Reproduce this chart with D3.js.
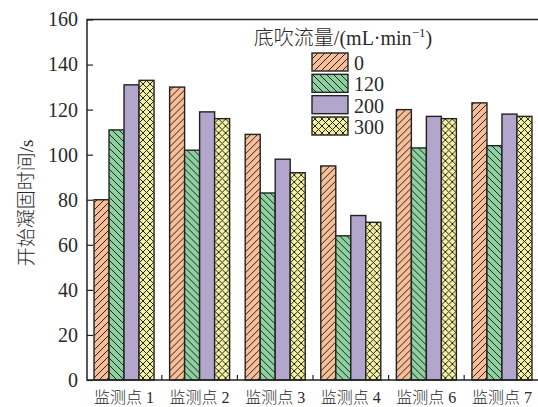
<!DOCTYPE html>
<html>
<head>
<meta charset="utf-8">
<script src="https://cdn.jsdelivr.net/npm/d3@7"></script>
<style>
  html, body { margin: 0; padding: 0; background: #fff; }
  svg { display: block; }
  text { font-family: "Liberation Serif", "Noto Sans CJK SC", serif; fill: #2a2a2a; }
  .cjk { font-weight: 300; }
</style>
</head>
<body>
<svg id="chart" width="538" height="407"></svg>
<script>
// Monitoring points along the x axis
const categories = ["监测点 1", "监测点 2", "监测点 3", "监测点 4", "监测点 6", "监测点 7"];
// Bottom-blowing flow rates (mL·min⁻¹) used as series
const seriesNames = ["0", "120", "200", "300"];
// Initial solidification time (s) per series, one value per monitoring point
const flow0   = [80, 130, 109, 95, 120, 123];
const flow120 = [111, 102, 83, 64, 103, 104];
const flow200 = [131, 119, 98, 73, 117, 118];
const flow300 = [133, 116, 92, 70, 116, 117];
const yTicks = [0, 20, 40, 60, 80, 100, 120, 140, 160];

const seriesValues = [flow0, flow120, flow200, flow300];
const fills = ["#F8BE98", "#8ED1A1", "#B3A6CC", "#F4F29E"];
const patternIds = ["hatch-fwd", "hatch-back", null, "hatch-cross"];

const svg = d3.select("#chart");
const plotLeft = 87, plotTop = 19.5, plotBottom = 380, plotRight = 539;

const x = d3.scaleBand().domain(categories).range([plotLeft, plotRight])
  .paddingInner(0.206).paddingOuter(0.093);
const xs = d3.scaleBand().domain(seriesNames).range([0, x.bandwidth()]);
const y = d3.scaleLinear().domain([0, 160]).range([plotBottom, plotTop]);

// Hatch patterns
const defs = svg.append("defs");
function addPattern(id, bg, draw) {
  const p = defs.append("pattern").attr("id", id)
    .attr("patternUnits", "userSpaceOnUse").attr("width", 7).attr("height", 7);
  p.append("rect").attr("width", 7).attr("height", 7).attr("fill", bg);
  draw(p);
}
function line(p, x1, y1, x2, y2) {
  p.append("line").attr("x1", x1).attr("y1", y1).attr("x2", x2).attr("y2", y2)
    .attr("stroke", "#222").attr("stroke-width", 1);
}
addPattern("hatch-fwd", fills[0], p => {
  line(p, -1, 8, 8, -1); line(p, -1, 1, 1, -1); line(p, 6, 8, 8, 6);
});
addPattern("hatch-back", fills[1], p => {
  line(p, -1, -1, 8, 8); line(p, 6, -1, 8, 1); line(p, -1, 6, 1, 8);
});
addPattern("hatch-cross", fills[3], p => {
  line(p, -1, 8, 8, -1); line(p, -1, 1, 1, -1); line(p, 6, 8, 8, 6);
  line(p, -1, -1, 8, 8); line(p, 6, -1, 8, 1); line(p, -1, 6, 1, 8);
});
const fillOf = i => patternIds[i] ? `url(#${patternIds[i]})` : fills[i];

// Bars
const groups = svg.append("g").selectAll("g").data(categories).join("g")
  .attr("transform", d => `translate(${x(d)},0)`);
groups.selectAll("rect")
  .data((d, ci) => seriesNames.map((s, si) => ({ s, si, v: seriesValues[si][ci] })))
  .join("rect")
  .attr("x", d => xs(d.s))
  .attr("y", d => y(d.v))
  .attr("width", xs.bandwidth())
  .attr("height", d => plotBottom - y(d.v))
  .attr("fill", d => fillOf(d.si))
  .attr("stroke", "#222").attr("stroke-width", 1.4);

// Frame
svg.append("path")
  .attr("d", `M${plotRight + 10},${plotTop}H${plotLeft}V${plotBottom}H${plotRight + 10}`)
  .attr("fill", "none").attr("stroke", "#222").attr("stroke-width", 1.5);

// Y axis (ticks pointing inward)
const yAxis = svg.append("g").attr("transform", `translate(${plotLeft},0)`)
  .call(d3.axisLeft(y).tickValues(yTicks).tickSizeInner(-6).tickSizeOuter(0).tickPadding(9));
yAxis.select(".domain").remove();
yAxis.selectAll(".tick line").attr("stroke", "#222").attr("stroke-width", 1.2);
yAxis.selectAll(".tick text").attr("font-size", 20)
  .attr("font-family", "Liberation Serif").attr("fill", "#2a2a2a");

// X axis: separator ticks between groups, labels under group centres
const step = x.step();
const sepTicks = categories.slice(1).map(c => x(c) - (step - x.bandwidth()) / 2);
svg.append("g").selectAll("line").data(sepTicks).join("line")
  .attr("x1", d => d).attr("x2", d => d)
  .attr("y1", plotBottom).attr("y2", plotBottom - 5)
  .attr("stroke", "#222").attr("stroke-width", 1.2);
svg.append("g").selectAll("text").data(categories).join("text")
  .attr("class", "cjk")
  .attr("x", d => x(d) + x.bandwidth() / 2)
  .attr("y", 403)
  .attr("text-anchor", "middle")
  .attr("font-size", 16)
  .text(d => d);

// Y axis title
svg.append("text")
  .attr("class", "cjk")
  .attr("transform", "translate(33,203) rotate(-90)")
  .attr("text-anchor", "middle")
  .attr("font-size", 19)
  .text("开始凝固时间/s");

// Legend
const lg = svg.append("g");
const title = lg.append("text").attr("class", "cjk").attr("x", 343).attr("y", 45)
  .attr("text-anchor", "middle").attr("font-size", 20);
title.append("tspan").text("底吹流量/(mL·min");
title.append("tspan").attr("dy", -8).attr("font-size", 13).text("−1");
title.append("tspan").attr("dy", 8).text(")");

const rowY = d3.scaleLinear().domain([0, 3]).range([53, 117]);
seriesNames.forEach((s, i) => {
  lg.append("rect")
    .attr("x", 312).attr("y", rowY(i))
    .attr("width", 36).attr("height", 18)
    .attr("fill", fillOf(i))
    .attr("stroke", "#222").attr("stroke-width", 1.4);
  lg.append("text")
    .attr("x", 354).attr("y", rowY(i) + 17)
    .attr("font-size", 20)
    .text(s);
});
</script>
</body>
</html>
